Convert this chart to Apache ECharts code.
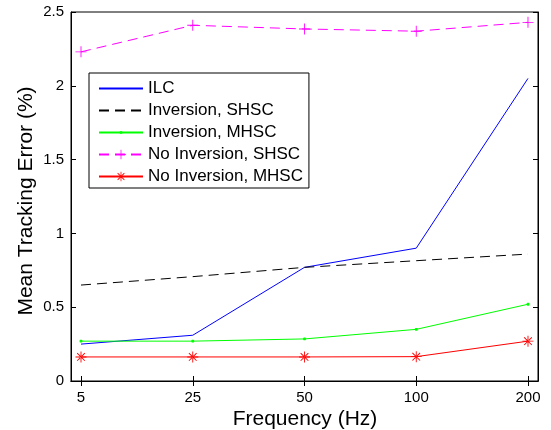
<!DOCTYPE html>
<html><head><meta charset="utf-8">
<script src="https://cdn.jsdelivr.net/npm/echarts@6/dist/echarts.min.js"></script>
<style>html,body{margin:0;padding:0;background:#fff}#c{width:551px;height:430px}</style>
</head><body><div id="c"></div>
<script>
const categories = ['5', '25', '50', '100', '200'];
const ilc = [0.25, 0.31, 0.77, 0.90, 2.05];
const invSHSC = [0.65, 0.707, 0.77, 0.815, 0.86];
const invMHSC = [0.27, 0.27, 0.285, 0.35, 0.52];
const noInvSHSC = [2.23, 2.41, 2.385, 2.37, 2.43];
const noInvMHSC = [0.163, 0.163, 0.163, 0.165, 0.27];
const yTicks = [0, 0.5, 1, 1.5, 2, 2.5];
const seriesNames = ['ILC', 'Inversion, SHSC', 'Inversion, MHSC', 'No Inversion, SHSC', 'No Inversion, MHSC'];

const FONT = '"Liberation Sans", Arial, Helvetica, sans-serif';
const idx = categories.map((c, i) => i + 1);
const pts = arr => arr.map((v, i) => [i + 1, v]);
const plusPath = 'path://M0,4.6H10V5.4H0Z M4.6,0H5.4V10H4.6Z';
const starPath = 'path://M0,4.6H10V5.4H0Z M4.6,0H5.4V10H4.6Z M1.2,1.8L1.8,1.2L8.8,8.2L8.2,8.8Z M8.8,1.8L8.2,1.2L1.2,8.2L1.8,8.8Z';
const dotPath = 'path://M0,0L0.01,0.01L0,0.01Z M10,10L9.99,9.99L10,9.99Z M3.6,4.2L4.2,3.6H5.8L6.4,4.2V5.8L5.8,6.4H4.2L3.6,5.8Z';

const chart = echarts.init(document.getElementById('c'), null, {renderer: 'canvas'});
const xBase = {
  type: 'value', min: 0.9105, max: 5.0895,
  splitLine: {show: false},
  axisLine: {show: true, lineStyle: {color: '#000', width: 1}},
  axisTick: {show: true, inside: true, length: 5, customValues: idx, lineStyle: {color: '#000'}},
};
const yBase = {
  type: 'value', min: 0, max: 2.5, interval: 0.5,
  splitLine: {show: false},
  axisLine: {show: true, lineStyle: {color: '#000', width: 1}},
  axisTick: {show: true, inside: true, length: 5, lineStyle: {color: '#000'}},
};
chart.setOption({
  animation: false,
  backgroundColor: '#fff',
  grid: {left: 71, right: 13, top: 12, bottom: 49, show: true, borderColor: '#000', borderWidth: 1, backgroundColor: 'transparent'},
  graphic: [
    {type: 'text', x: 305, y: 419, style: {text: 'Frequency (Hz)', font: '21px ' + FONT, fill: '#000', align: 'center', verticalAlign: 'middle'}},
    {type: 'text', x: 26, y: 201, rotation: Math.PI / 2, style: {text: 'Mean Tracking Error (%)', font: '21px ' + FONT, fill: '#000', align: 'center', verticalAlign: 'middle'}}
  ],
  xAxis: [
    Object.assign({}, xBase, {
      position: 'bottom',
      axisLabel: {customValues: idx, fontFamily: FONT, fontSize: 15, color: '#000', margin: 9,
        formatter: v => categories[Math.round(v) - 1]}
    }),
    Object.assign({}, xBase, {position: 'top', axisLabel: {show: false}})
  ],
  yAxis: [
    Object.assign({}, yBase, {
      position: 'left',
      axisLabel: {fontFamily: FONT, fontSize: 15, color: '#000', margin: 7,
        customValues: yTicks, formatter: v => String(v)}
    }),
    Object.assign({}, yBase, {position: 'right', axisLabel: {show: false}})
  ],
  legend: {
    orient: 'vertical', left: 89, top: 73,
    itemWidth: 44, itemHeight: 12, itemGap: 5,
    padding: [7, 6, 3, 9],
    backgroundColor: '#fff', borderColor: '#000', borderWidth: 1, borderRadius: 0,
    textStyle: {fontFamily: FONT, fontSize: 17, color: '#000', lineHeight: 17},
    data: [
      {name: seriesNames[0], itemStyle: {opacity: 0}},
      {name: seriesNames[1], itemStyle: {opacity: 0}},
      {name: seriesNames[2]},
      {name: seriesNames[3]},
      {name: seriesNames[4]}
    ]
  },
  series: [
    {name: seriesNames[0], type: 'line', data: pts(ilc), symbol: 'none',
      lineStyle: {color: '#0000ff', width: 1}, itemStyle: {color: '#0000ff'}},
    {name: seriesNames[1], type: 'line', data: pts(invSHSC), symbol: 'none',
      lineStyle: {color: '#000', width: 1, type: [10, 6]}, itemStyle: {color: '#000'}},
    {name: seriesNames[2], type: 'line', data: pts(invMHSC), symbol: dotPath, symbolSize: 10,
      lineStyle: {color: '#00ff00', width: 1}, itemStyle: {color: '#00ff00', borderWidth: 0}},
    {name: seriesNames[3], type: 'line', data: pts(noInvSHSC), symbol: plusPath, symbolSize: 11,
      lineStyle: {color: '#ff00ff', width: 1, type: [10, 6]}, itemStyle: {color: '#ff00ff', borderWidth: 0}},
    {name: seriesNames[4], type: 'line', data: pts(noInvMHSC), symbol: starPath, symbolSize: 11,
      lineStyle: {color: '#ff0000', width: 1}, itemStyle: {color: '#ff0000', borderWidth: 0}}
  ]
});
</script></body></html>
